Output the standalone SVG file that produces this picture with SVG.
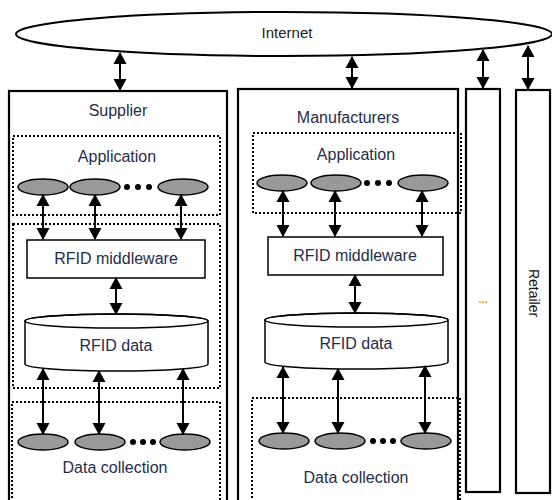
<svg xmlns="http://www.w3.org/2000/svg" width="552" height="500" viewBox="0 0 552 500">
<defs>
<marker id="a" viewBox="0 0 12 14" refX="11" refY="7" markerWidth="12" markerHeight="14" markerUnits="userSpaceOnUse" orient="auto-start-reverse">
<path d="M0,0.5 L12,7 L0,13.5 Z" fill="#000"/>
</marker>
</defs>
<style>
.box{fill:#fff;stroke:#000;stroke-width:2.2}
.dot{fill:none;stroke:#000;stroke-width:2;stroke-dasharray:2 2}
.el{fill:#999;stroke:#000;stroke-width:1.5}
.rect{fill:#fff;stroke:#000;stroke-width:1.5}
.lbl{font-family:"Liberation Sans",Arial,sans-serif;font-size:16px;fill:#1f2d4d;text-anchor:middle}
.conn line{stroke:#000;stroke-width:2;marker-start:url(#a);marker-end:url(#a)}
.pt{fill:#000}
</style>
<rect width="552" height="500" fill="#fff"/>

<g id="internet">
<ellipse cx="284" cy="34" rx="268" ry="22" fill="#fff" stroke="#000" stroke-width="2"/>
<text class="lbl" x="287" y="38" style="font-size:15px;fill:#222">Internet</text>
</g>

<g id="supplier">
<rect class="box" x="9" y="91" width="218" height="420"/>
<text class="lbl" x="118" y="116">Supplier</text>
</g>
<g id="supplier-application">
<rect class="dot" x="13" y="136" width="207" height="79"/>
<text class="lbl" x="117" y="162">Application</text>
<ellipse class="el" cx="43" cy="187" rx="25" ry="8"/>
<ellipse class="el" cx="95" cy="187" rx="25" ry="8"/>
<circle class="pt" cx="127" cy="187" r="3"/><circle class="pt" cx="138" cy="187" r="3"/><circle class="pt" cx="149" cy="187" r="3"/>
<ellipse class="el" cx="183" cy="187" rx="25" ry="8"/>
</g>
<g id="supplier-middle">
<rect class="dot" x="13" y="224" width="207" height="164"/>
</g>
<g id="supplier-middleware">
<rect class="rect" x="27" y="240" width="178" height="38"/>
<text class="lbl" x="116" y="264">RFID middleware</text>
</g>
<g id="supplier-data">
<path class="rect" d="M25,321 L25,364 A91.5,7 0 0 0 208,364 L208,321 A91.5,7 0 0 0 25,321 Z"/>
<ellipse cx="116.5" cy="321" rx="91.5" ry="7" fill="none" stroke="#000" stroke-width="1.5"/>
<text class="lbl" x="116" y="351">RFID data</text>
</g>
<g id="supplier-collection">
<rect class="dot" x="12" y="402" width="208" height="110"/>
<ellipse class="el" cx="43" cy="442" rx="25" ry="8"/>
<ellipse class="el" cx="100" cy="442" rx="25" ry="8"/>
<circle class="pt" cx="133" cy="442" r="3"/><circle class="pt" cx="143" cy="442" r="3"/><circle class="pt" cx="153" cy="442" r="3"/>
<ellipse class="el" cx="185" cy="442" rx="25" ry="8"/>
<text class="lbl" x="115" y="473">Data collection</text>
</g>

<g id="manufacturers">
<rect class="box" x="238" y="89" width="220" height="420"/>
<text class="lbl" x="348" y="123">Manufacturers</text>
</g>
<g id="manufacturers-application">
<rect class="dot" x="253" y="133" width="208" height="80"/>
<text class="lbl" x="356" y="160">Application</text>
<ellipse class="el" cx="282" cy="183" rx="25" ry="8"/>
<ellipse class="el" cx="336" cy="183" rx="25" ry="8"/>
<circle class="pt" cx="367" cy="183" r="3"/><circle class="pt" cx="378" cy="183" r="3"/><circle class="pt" cx="389" cy="183" r="3"/>
<ellipse class="el" cx="423" cy="183" rx="25" ry="8"/>
</g>
<g id="manufacturers-middleware">
<rect class="rect" x="268" y="237" width="175" height="38"/>
<text class="lbl" x="355" y="261">RFID middleware</text>
</g>
<g id="manufacturers-data">
<path class="rect" d="M265,320 L265,362 A91.5,7 0 0 0 448,362 L448,320 A91.5,7 0 0 0 265,320 Z"/>
<ellipse cx="356.5" cy="320" rx="91.5" ry="7" fill="none" stroke="#000" stroke-width="1.5"/>
<text class="lbl" x="356" y="349">RFID data</text>
</g>
<g id="manufacturers-collection">
<rect class="dot" x="252" y="398" width="208" height="110"/>
<ellipse class="el" cx="284" cy="441" rx="25" ry="8"/>
<ellipse class="el" cx="340" cy="441" rx="25" ry="8"/>
<circle class="pt" cx="373" cy="441" r="3"/><circle class="pt" cx="383" cy="441" r="3"/><circle class="pt" cx="393" cy="441" r="3"/>
<ellipse class="el" cx="426" cy="441" rx="25" ry="8"/>
<text class="lbl" x="356" y="483">Data collection</text>
</g>

<g id="others">
<rect class="box" x="466" y="89" width="34" height="403"/>
<text x="483" y="303" style="font-family:'Liberation Sans',Arial,sans-serif;font-size:11px;font-weight:bold;fill:#e0a000;text-anchor:middle">...</text>
</g>
<g id="retailer">
<rect class="box" x="516" y="90" width="34" height="403"/>
<text transform="translate(529,293) rotate(90)" style="font-family:'Liberation Sans',Arial,sans-serif;font-size:14px;fill:#111;text-anchor:middle">Retailer</text>
</g>

<g class="conn" id="connectors">
<line x1="120" y1="53" x2="120" y2="90"/>
<line x1="352" y1="57" x2="352" y2="88"/>
<line x1="483" y1="50" x2="483" y2="88"/>
<line x1="528" y1="46" x2="528" y2="89"/>
<line x1="43" y1="195" x2="43" y2="239"/>
<line x1="95" y1="195" x2="95" y2="239"/>
<line x1="181" y1="195" x2="181" y2="239"/>
<line x1="116" y1="278" x2="116" y2="314"/>
<line x1="43" y1="369" x2="43" y2="434"/>
<line x1="99" y1="371" x2="99" y2="434"/>
<line x1="183" y1="369" x2="183" y2="434"/>
<line x1="283" y1="191" x2="283" y2="236"/>
<line x1="335" y1="191" x2="335" y2="236"/>
<line x1="422" y1="191" x2="422" y2="236"/>
<line x1="355" y1="275" x2="355" y2="313"/>
<line x1="283" y1="367" x2="283" y2="433"/>
<line x1="338" y1="369" x2="338" y2="433"/>
<line x1="425" y1="366" x2="425" y2="433"/>
</g>
</svg>
